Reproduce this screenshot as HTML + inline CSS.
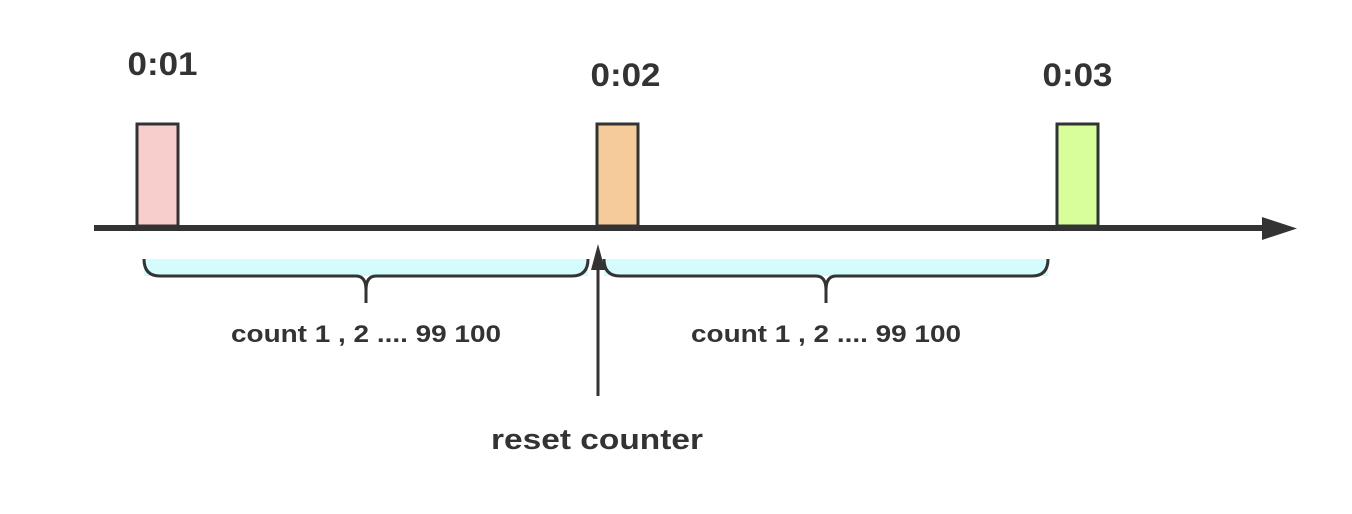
<!DOCTYPE html>
<html><head><meta charset="utf-8"><style>
html,body{margin:0;padding:0;background:#fff;width:1352px;height:514px;overflow:hidden}
svg{display:block}
text{font-family:"Liberation Sans","DejaVu Sans",sans-serif;font-weight:bold;fill:#333}
</style></head><body>
<svg id="chart" width="1352" height="514" viewBox="0 0 1352 514"></svg>
<script>
const tickLabels = ["0:01", "0:02", "0:03"];
const tickTimes = [1, 2, 3];
const tickColors = ["#f8cecc", "#f5cc99", "#d7fe9b"];
const labelYs = [62, 73, 73];
const intervalLabels = ["count 1 , 2 .... 99 100", "count 1 , 2 .... 99 100"];
const resetTime = 2;
const resetLabel = "reset counter";

const NS = "http://www.w3.org/2000/svg";
const svg = document.getElementById("chart");
function xScale(t){ return 137 + (t - 1) * 460; }
const axisY = 228, barW = 41, barTop = 124;
function mk(tag, attrs, parent){
  const e = document.createElementNS(NS, tag);
  for (const k in attrs) e.setAttribute(k, attrs[k]);
  (parent || svg).appendChild(e);
  return e;
}

for (let i = 0; i < intervalLabels.length; i++) {
  const x0 = xScale(tickTimes[i]) + 7, x1 = xScale(tickTimes[i+1]) - 9;
  const mid = (x0 + x1) / 2;
  const fill = mk("rect", {x: x0, y: 259, width: x1 - x0, height: 17, fill: "#d4fcfc"});
  
  
  const d = `M${x0},259 Q${x0},276 ${x0+16},276 L${mid-10},276 Q${mid},276 ${mid},290 L${mid},303 M${mid},290 Q${mid},276 ${mid+10},276 L${x1-16},276 Q${x1},276 ${x1},259`;
  const br = mk("path", {d: d, fill: "none", stroke: "#333", "stroke-width": 3});
  
  
  const t = mk("text", {x: mid - 135, y: 342, "font-size": 24, textLength: 270, lengthAdjust: "spacingAndGlyphs"});
  t.textContent = intervalLabels[i];
  
  
}

const ax = mk("line", {x1: 94, y1: axisY, x2: 1266, y2: axisY, stroke: "#333", "stroke-width": 6});


const ah = mk("polygon", {points: `1262,217 1297,228.5 1262,240`, fill: "#333"});



for (let i = 0; i < tickLabels.length; i++) {
  const x = xScale(tickTimes[i]);
  const b = mk("rect", {x: x, y: barTop, width: barW, height: axisY - barTop - 2, fill: tickColors[i], stroke: "#333", "stroke-width": 3});
  
  
  const cx = x + barW/2 + (i === 0 ? 5 : i === 1 ? 8 : 0);
  const t = mk("text", {x: cx - 35, y: labelYs[i] + 13, "font-size": 32, textLength: 70, lengthAdjust: "spacingAndGlyphs"});
  t.textContent = tickLabels[i];
  
  
}

const rx = xScale(resetTime) + 1;
const rl = mk("line", {x1: rx, y1: 396, x2: rx, y2: 258, stroke: "#333", "stroke-width": 3});


const rh = mk("polygon", {points: `${rx-7},270 ${rx},244 ${rx+7},270`, fill: "#333"});


const rt = mk("text", {x: rx - 107, y: 449, "font-size": 29, textLength: 212, lengthAdjust: "spacingAndGlyphs"});
rt.textContent = resetLabel;


</script>
</body></html>
